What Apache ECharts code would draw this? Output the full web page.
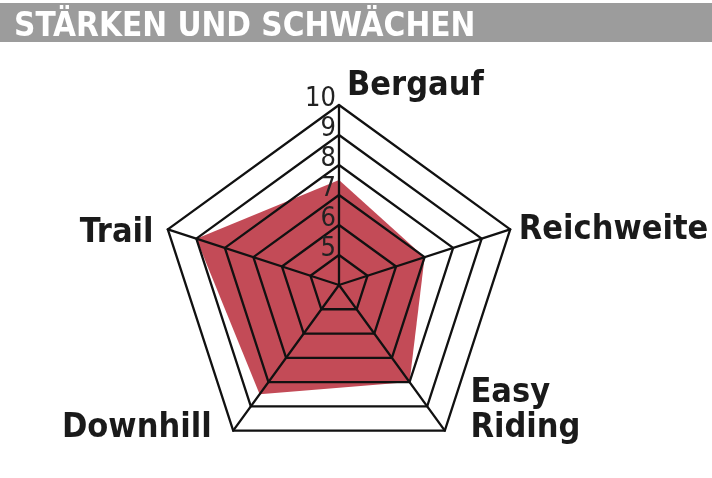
<!DOCTYPE html>
<html>
<head>
<meta charset="utf-8">
<script src="https://cdn.jsdelivr.net/npm/echarts@6/dist/echarts.min.js"></script>
<style>
html,body{margin:0;padding:0;background:#fff;}
#c{width:712px;height:478px;}
</style>
</head>
<body>
<div id="c"></div>
<script>
// ---- data ----
const titleText = 'STÄRKEN UND SCHWÄCHEN';
const categories = ['Bergauf', 'Trail', 'Downhill', 'Easy\nRiding', 'Reichweite'];
const values = [7.5, 9, 8.5, 8, 7];
const scaleMin = 4;
const scaleMax = 10;
const tickLabels = ['5', '6', '7', '8', '9', '10'];

const nameFont = 'DejaVu Sans Condensed';
const baseName = {color: '#1a1a1a', fontFamily: nameFont, fontWeight: 'bold', fontSize: 34};

const nameLayout = {
  'Bergauf':    {gap: 2,  style: {align: 'left', verticalAlign: 'bottom', padding: [0, 0, 0, 8]}},
  'Trail':      {gap: 14, style: {align: 'right', verticalAlign: 'top', lineHeight: 16, padding: [0, 1, 0, 0]}},
  'Downhill':   {gap: 18, style: {align: 'right', verticalAlign: 'bottom', padding: [0, 11, 0, 0]}},
  'Easy\nRiding': {gap: 18, style: {align: 'left', verticalAlign: 'bottom', padding: [0, 0, 0, 15], lineHeight: 35}},
  'Reichweite': {gap: 9,  style: {align: 'left', verticalAlign: 'top', lineHeight: 8}}
};

const indicators = categories.map((c, i) => {
  const o = {
    name: c, min: scaleMin, max: scaleMax,
    nameGap: nameLayout[c].gap,
    nameTextStyle: Object.assign({}, baseName, nameLayout[c].style)
  };
  if (i === 0) {
    o.axisLabel = {
      show: true,
      color: '#222',
      fontFamily: 'Liberation Sans Narrow, DejaVu Sans Condensed',
      fontSize: 27,
      align: 'right',
      verticalAlign: 'bottom',
      lineHeight: 12,
      margin: 3,
      formatter: function (v) {
        const idx = Math.round(v - scaleMin) - 1;
        return idx >= 0 && idx < tickLabels.length ? tickLabels[idx] : '';
      }
    };
  }
  return o;
});

const chart = echarts.init(document.getElementById('c'), null, {renderer: 'canvas'});
chart.setOption({
  animation: false,
  backgroundColor: '#fff',
  graphic: [{
    type: 'rect', left: 0, top: 3, z: -1,
    shape: {width: 712, height: 39},
    style: {fill: '#9c9c9c'}
  }],
  title: {
    text: titleText,
    left: 14, top: 11, padding: 0,
    textStyle: {color: '#fff', fontFamily: nameFont, fontWeight: 'bold', fontSize: 33}
  },
  radar: {
    center: [339, 285],
    radius: 180,
    startAngle: 90,
    shape: 'polygon',
    splitNumber: 6,
    z: 5,
    indicator: indicators,
    axisName: {show: true},
    axisLine: {show: true, lineStyle: {color: '#111', width: 2.3}},
    axisTick: {show: false},
    axisLabel: {show: false},
    splitLine: {show: true, lineStyle: {color: '#111', width: 2.3}},
    splitArea: {show: false}
  },
  series: [{
    type: 'radar',
    z: 1,
    symbol: 'none',
    lineStyle: {width: 0},
    areaStyle: {color: '#c34b57', opacity: 1},
    data: [{value: values}]
  }]
});
</script>
</body>
</html>
